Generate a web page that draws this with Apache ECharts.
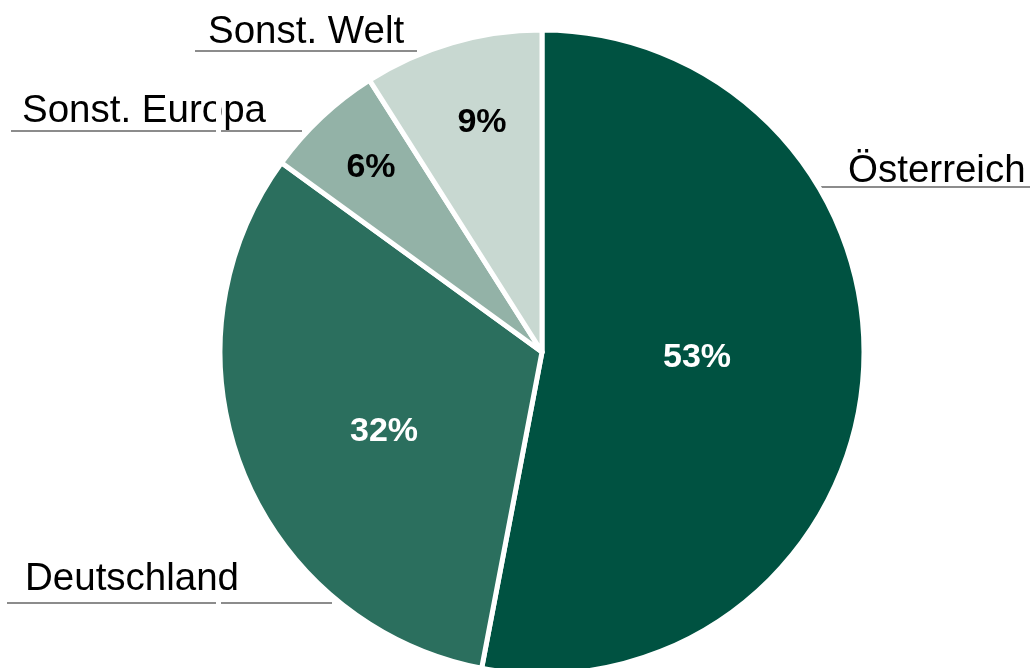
<!DOCTYPE html>
<html>
<head>
<meta charset="utf-8">
<script src="https://cdn.jsdelivr.net/npm/echarts@6/dist/echarts.min.js"></script>
<style>
  html, body { margin: 0; padding: 0; background: #fff; }
  #chart { width: 1030px; height: 668px; }
</style>
</head>
<body>
<div id="chart"></div>
<script>
// Daten
const regions = ['Österreich', 'Deutschland', 'Sonst. Europa', 'Sonst. Welt']
const shares = [53, 32, 6, 9]
const colors = ['#005241', '#2b6f5e', '#93b2a7', '#c8d8d1']

// Positionen der Beschriftungen (Prozent innen, Namen außen mit Unterstrich)
const pctPos = [[697, 358], [384, 432], [371, 168], [482, 123]]
const pctColor = ['#fff', '#fff', '#000', '#000']
const namePos = [[848, 171], [25, 579], [22, 111], [208, 32]]
const underline = [
  [[820, 187], [925, 187], [1030, 187]],
  [[7, 603], [170, 603], [332, 603]],
  [[11, 131], [150, 131], [302, 131]],
  [[195, 51], [300, 51], [417, 51]],
]

const pieData = regions.map((name, i) => ({
  name,
  value: shares[i],
  itemStyle: { color: colors[i] },
  label: { color: pctColor[i] },
}))

const chart = echarts.init(document.getElementById('chart'))
chart.setOption({
  animation: false,
  textStyle: { fontFamily: 'Liberation Sans, Arial, sans-serif' },
  series: [
    {
      type: 'pie',
      center: [542, 352],
      radius: [0, 322],
      startAngle: 90,
      clockwise: true,
      silent: true,
      itemStyle: { borderColor: '#fff', borderWidth: 5 },
      label: {
        show: true,
        position: 'inside',
        fontSize: 34,
        fontWeight: 'bold',
        formatter: (p) => Math.round(p.percent) + '%',
      },
      labelLayout: (p) => ({
        x: pctPos[p.dataIndex][0],
        y: pctPos[p.dataIndex][1],
        align: 'center',
        verticalAlign: 'middle',
      }),
      labelLine: { show: false },
      emphasis: { disabled: true },
      data: pieData,
    },
    {
      // nur für die Namen außen
      type: 'pie',
      center: [542, 352],
      radius: [0, 322],
      startAngle: 90,
      silent: true,
      itemStyle: { color: 'rgba(0,0,0,0)', borderWidth: 0 },
      label: {
        show: true,
        position: 'outside',
        fontSize: 38.5,
        color: '#000',
        overflow: 'none',
        width: 400,
        formatter: '{b}',
      },
      labelLine: {
        show: true,
        lineStyle: { color: '#8c8c8c', width: 2 },
      },
      labelLayout: (p) => ({
        x: namePos[p.dataIndex][0],
        y: namePos[p.dataIndex][1],
        align: 'left',
        verticalAlign: 'middle',
        labelLinePoints: underline[p.dataIndex],
      }),
      emphasis: { disabled: true },
      data: regions.map((name, i) => ({ name, value: shares[i] })),
    },
  ],
  graphic: [
    // kleine weiße Lücken wie im Original
    { type: 'rect', z: 100, shape: { x: 216, y: 88, width: 5, height: 48 }, style: { fill: '#fff' } },
    { type: 'rect', z: 100, shape: { x: 216, y: 598, width: 5, height: 9 }, style: { fill: '#fff' } },
  ],
})
</script>
</body>
</html>
